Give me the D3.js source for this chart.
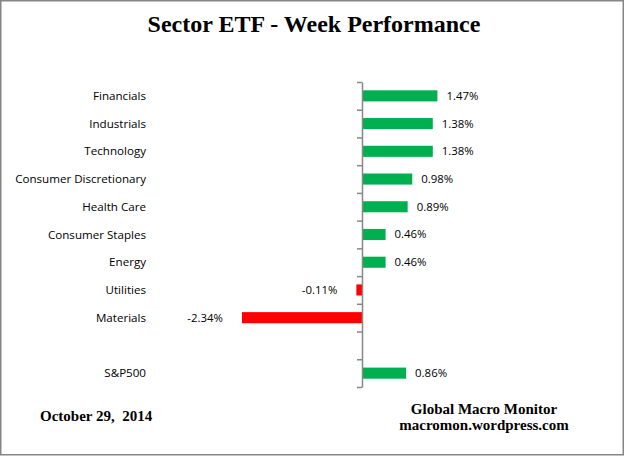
<!DOCTYPE html>
<html><head><meta charset="utf-8">
<script src="https://cdn.jsdelivr.net/npm/d3@7"></script>
<style>body{margin:0;background:#fff}svg{display:block}</style>
</head><body>
<script>
const categories = ["Financials","Industrials","Technology","Consumer Discretionary","Health Care","Consumer Staples","Energy","Utilities","Materials","","S&P500"];
const values = [1.47,1.38,1.38,0.98,0.89,0.46,0.46,-0.11,-2.34,null,0.86];
const valueLabels = ["1.47%","1.38%","1.38%","0.98%","0.89%","0.46%","0.46%","-0.11%","-2.34%","","0.86%"];
const title = "Sector ETF - Week Performance";
const dateText = "October 29,  2014";
const sourceLines = ["Global Macro Monitor","macromon.wordpress.com"];

const W=625,H=456;
const svg=d3.select("body").append("svg").attr("width",W).attr("height",H);
svg.append("rect").attr("x",0.75).attr("y",0.75).attr("width",622.5).attr("height",454)
  .attr("fill","#fff").attr("stroke","#868686").attr("stroke-width",1.5);

const x=d3.scaleLinear().domain([-3,3]).range([362-153.9,362+153.9]);
const y=d3.scaleBand().domain(d3.range(categories.length)).range([82,387]).paddingInner(0.6).paddingOuter(0.3);
const yIdx=d3.scaleLinear().domain([0,categories.length]).range([82,387]);

svg.append("text").attr("x",314).attr("y",32).attr("text-anchor","middle")
  .attr("font-family","Liberation Serif").attr("font-weight","bold").attr("font-size",24).text(title);

// bars
svg.selectAll("rect.bar").data(values.map((v,i)=>({v,i})).filter(d=>d.v!==null)).join("rect")
  .attr("class","bar")
  .attr("x",d=>x(Math.min(0,d.v))).attr("width",d=>Math.abs(x(d.v)-x(0)))
  .attr("y",d=>y(d.i)).attr("height",y.bandwidth())
  .attr("fill",d=>d.v>=0?"#00B050":"#FF0000");

// axis
const axis=d3.axisLeft(yIdx).tickValues(d3.range(categories.length+1)).tickSize(5).tickSizeOuter(0).tickFormat("");
const ag=svg.append("g").attr("transform",`translate(${x(0)},0)`).call(axis);
ag.selectAll("path,line").attr("stroke","#888").attr("stroke-width",1.5);

// category labels
svg.selectAll("text.cat").data(categories).join("text").attr("class","cat")
  .attr("x",146).attr("y",(d,i)=>y(i)+y.bandwidth()/2).attr("dy","0.35em")
  .attr("text-anchor","end").attr("font-family","Open Sans").attr("font-size",11.6).attr("fill","#000").text(d=>d);

// value labels
svg.selectAll("text.val").data(values.map((v,i)=>({v,i})).filter(d=>d.v!==null)).join("text").attr("class","val")
  .attr("x",d=>d.v>=0?x(d.v)+9:x(d.v)-19)
  .attr("y",d=>y(d.i)+y.bandwidth()/2).attr("dy","0.35em")
  .attr("text-anchor",d=>d.v>=0?"start":"end")
  .attr("font-family","Open Sans").attr("font-size",11.4).attr("fill","#000").text(d=>valueLabels[d.i]);

svg.append("text").attr("x",40).attr("y",421).attr("font-family","Liberation Serif").attr("font-weight","bold")
  .attr("font-size",15).style("white-space","pre").text(dateText);
svg.selectAll("text.src").data(sourceLines).join("text").attr("class","src")
  .attr("x",484).attr("y",(d,i)=>414+i*16).attr("text-anchor","middle")
  .attr("font-family","Liberation Serif").attr("font-weight","bold").attr("font-size",15).text(d=>d);
</script>
</body></html>
